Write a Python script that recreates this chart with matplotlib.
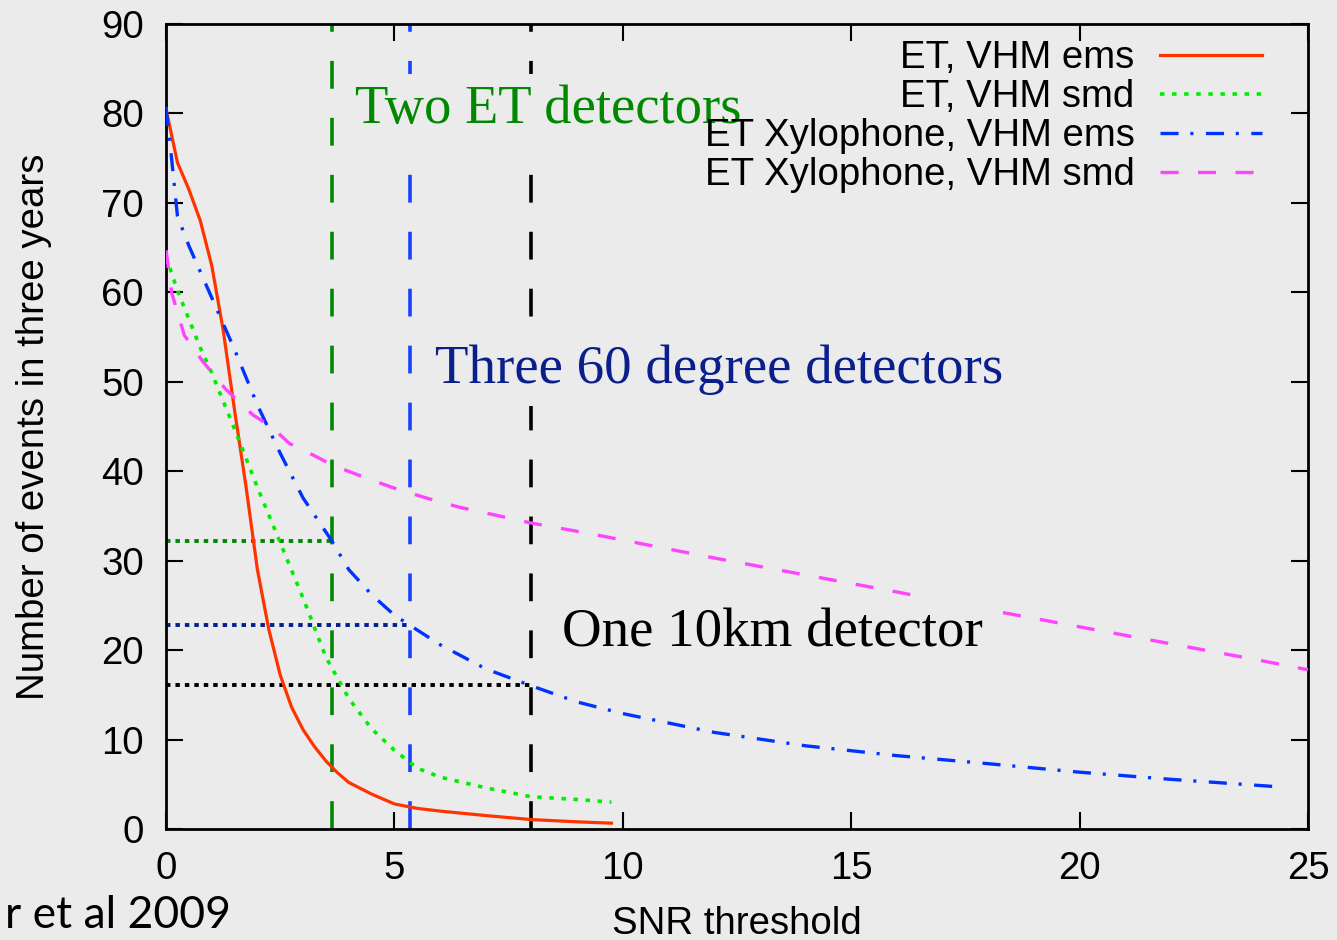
import matplotlib
matplotlib.use("Agg")
import matplotlib.pyplot as plt

# SNR threshold vs. number of events (3 yr), ET and ET Xylophone, VHM ems / smd
x_et_ems = [0, 0.25, 0.5, 0.75, 1.0, 1.25, 1.5, 1.75, 2.0, 2.25, 2.5, 2.75, 3.0,
            3.25, 3.5, 3.75, 4.0, 4.5, 5.0, 5.5, 6.0, 7.0, 8.0, 9.0, 9.75]
y_et_ems = [80.5, 74.5, 71.5, 68.0, 63.0, 55.8, 46.8, 38.3, 29.0, 22.3, 17.2, 13.6, 11.1,
            9.2, 7.6, 6.3, 5.2, 3.9, 2.8, 2.3, 2.0, 1.5, 1.05, 0.8, 0.65]

x_et_smd = [0, 0.25, 0.5, 0.75, 1.0, 1.5, 2.0, 2.5, 3.0, 3.5, 4.0, 4.5, 5.0,
            5.5, 6.0, 7.0, 8.0, 9.0, 9.75]
y_et_smd = [64.0, 60.2, 57.0, 53.8, 51.0, 44.7, 38.2, 32.0, 25.8, 19.2, 14.6, 11.2, 8.8,
            6.8, 5.8, 4.6, 3.6, 3.3, 3.0]

x_xyl_ems = [0, 0.1, 0.25, 0.5, 1.0, 1.5, 2.0, 2.5, 3.0, 3.63, 4.0, 4.5, 5.0, 5.33,
             6.0, 7.0, 8.0, 9.0, 10.0, 12.0, 14.0, 16.0, 18.0, 20.0, 22.0, 24.4]
y_xyl_ems = [80.6, 76.0, 68.5, 65.2, 59.4, 53.6, 47.4, 42.0, 37.0, 32.2, 29.0, 26.2, 23.9, 22.8,
             20.6, 17.9, 16.0, 14.2, 12.9, 10.8, 9.3, 8.2, 7.3, 6.35, 5.55, 4.7]

x_xyl_smd = [0, 0.12, 0.4, 0.8, 1.3, 1.9, 2.3, 2.7, 3.3, 3.63, 4.4, 5.0, 5.7, 6.4,
             8.0, 9.3, 10.0, 12.0, 14.0, 16.0, 18.0, 20.0, 22.0, 24.0, 25.0]
y_xyl_smd = [64.7, 60.0, 55.2, 52.3, 49.2, 46.3, 45.0, 43.1, 41.6, 40.7, 39.2, 38.1, 37.0, 36.0,
             34.2, 33.0, 32.3, 30.3, 28.4, 26.5, 24.5, 22.6, 20.7, 18.8, 17.8]

# detector configurations: SNR threshold and Xylophone ems rate there
thresholds = [3.63, 5.33, 8.0]
rates = [32.2, 22.8, 16.1]
vline_colors = ['#008800', '#1a40ff', '#000000']
hline_colors = ['#008800', '#00208c', '#000000']

bg = '#ebebeb'
fs = 27.6
plt.rcParams['lines.scale_dashes'] = False
plt.rcParams['font.family'] = ['Liberation Sans', 'DejaVu Sans']

fig = plt.figure(figsize=(13.37, 9.4), dpi=100, facecolor=bg)
ax = fig.add_axes([0.1242, 0.1181, 0.8541, 0.8564], facecolor=bg)

for thr, n, vc, hc in zip(thresholds, rates, vline_colors, hline_colors):
    ax.plot([thr, thr], [0, 90], color=vc, lw=2.6, dashes=(20, 21), zorder=2)
    ax.plot([0, thr], [n, n], color=hc, lw=2.8, dashes=(3.2, 3.6), zorder=2)

ax.plot(x_et_ems, y_et_ems, color='#ff3300', lw=2.3, label='ET, VHM ems', zorder=3)
ax.plot(x_et_smd, y_et_smd, color='#00ee00', lw=2.6, dashes=(3.2, 5.5),
        label='ET, VHM smd', zorder=3)
ax.plot(x_xyl_ems, y_xyl_ems, color='#0033ff', lw=2.4, dashes=(13, 8.5, 2.2, 9),
        label='ET Xylophone, VHM ems', zorder=3)
ax.plot(x_xyl_smd, y_xyl_smd, color='#ff44ff', lw=2.4, dashes=(13, 14),
        label='ET Xylophone, VHM smd', zorder=3)

serif = ['Liberation Serif', 'DejaVu Serif']
box = dict(facecolor=bg, edgecolor='none', pad=8)
ax.text(4.14, 78.9, 'Two ET detectors', color='#008800', fontsize=39.3,
        family=serif, va='baseline', bbox=box, zorder=4)
ax.text(5.89, 49.9, 'Three 60 degree detectors', color='#0a1e8c', fontsize=39.5,
        family=serif, va='baseline', bbox=box, zorder=4)
ax.text(8.66, 20.4, 'One 10km detector', color='black', fontsize=39.5,
        family=serif, va='baseline', bbox=box, zorder=4)

ax.set_xlim(0, 25)
ax.set_ylim(0, 90)
ax.set_xticks(range(0, 26, 5))
ax.set_yticks(range(0, 91, 10))
ax.tick_params(direction='in', length=12, width=1.5, top=True, right=True,
               labelsize=fs, pad=16)
for s in ax.spines.values():
    s.set_linewidth(2)

ax.set_xlabel('SNR threshold', fontsize=fs)
ax.set_ylabel('Number of events in three years', fontsize=fs)
ax.xaxis.set_label_coords(0.5, -0.096)
ax.yaxis.set_label_coords(-0.1, 0.5)

leg = ax.legend(loc='upper right', bbox_to_anchor=(0.9597, 0.980), markerfirst=False,
                frameon=False, fontsize=fs, handlelength=2.66, handletextpad=0.66,
                labelspacing=0.08, borderpad=0, borderaxespad=0)
leg.set_zorder(5)

fig.text(5 / 1337, 1 - 928 / 940, 'r et al 2009', fontsize=32,
         family=['Lato', 'DejaVu Sans'], va='baseline')

plt.savefig('out.png', dpi=100, facecolor=bg)
